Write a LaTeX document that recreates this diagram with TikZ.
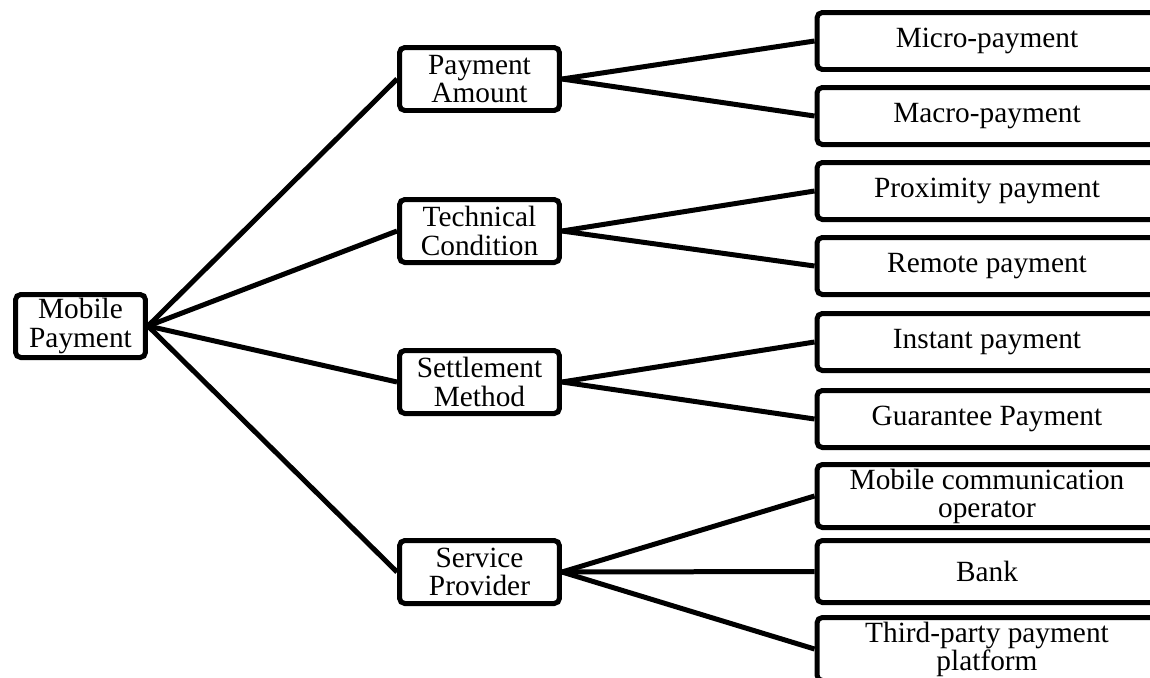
\documentclass[tikz,border=0pt]{standalone}
\usepackage{fontspec}
\setmainfont{Liberation Serif}
\begin{document}
\begin{tikzpicture}[x=0.02cm,y=-0.02cm,
    bnode/.style={draw,line width=0.1cm,rounded corners=3pt,align=center,inner sep=1pt,font=\fontsize{16.7}{16}\selectfont},
    cnode/.style={bnode,minimum width=3.2cm,minimum height=1.26cm},
    lnode/.style={bnode,minimum width=6.8cm,minimum height=1.14cm}]
    \useasboundingbox (0,0) rectangle (1150,677);
    \clip (0,0) rectangle (1150,677);
    \node[bnode,minimum width=2.6cm,minimum height=1.26cm] (mp) at (80.5,326) {Mobile\\Payment};

    \node[cnode] (pa) at (479.5,79) {Payment\\Amount};
    \node[cnode] (tc) at (479.5,231) {Technical\\Condition};
    \node[cnode] (sm) at (479.5,382) {Settlement\\Method};
    \node[cnode] (sp) at (479.5,572) {Service\\Provider};

    \node[lnode] (micro) at (987,41) {Micro-payment};
    \node[lnode] (macro) at (987,116) {Macro-payment};
    \node[lnode] (prox) at (987,191) {Proximity payment};
    \node[lnode] (remote) at (987,266) {Remote payment};
    \node[lnode] (inst) at (987,342) {Instant payment};
    \node[lnode] (guar) at (987,419) {Guarantee Payment};
    \node[lnode,minimum height=1.26cm] (mco) at (987,496) {Mobile communication\\operator};
    \node[lnode,minimum height=1.24cm] (bank) at (987,571.5) {Bank};
    \node[lnode,minimum height=1.26cm] (tpp) at (987,649) {Third-party payment\\platform};

   \begin{scope}[line width=0.1cm]
    \draw (mp.east) -- (pa.west);
    \draw (mp.east) -- (tc.west);
    \draw (mp.east) -- (sm.west);
    \draw (mp.east) -- (sp.west);

    \draw (pa.east) -- (micro.west);
    \draw (pa.east) -- (macro.west);
    \draw (tc.east) -- (prox.west);
    \draw (tc.east) -- (remote.west);
    \draw (sm.east) -- (inst.west);
    \draw (sm.east) -- (guar.west);
    \draw (sp.east) -- (mco.west);
    \draw (sp.east) -- (bank.west);
    \draw (sp.east) -- (tpp.west);
   \end{scope}
\end{tikzpicture}
\end{document}
